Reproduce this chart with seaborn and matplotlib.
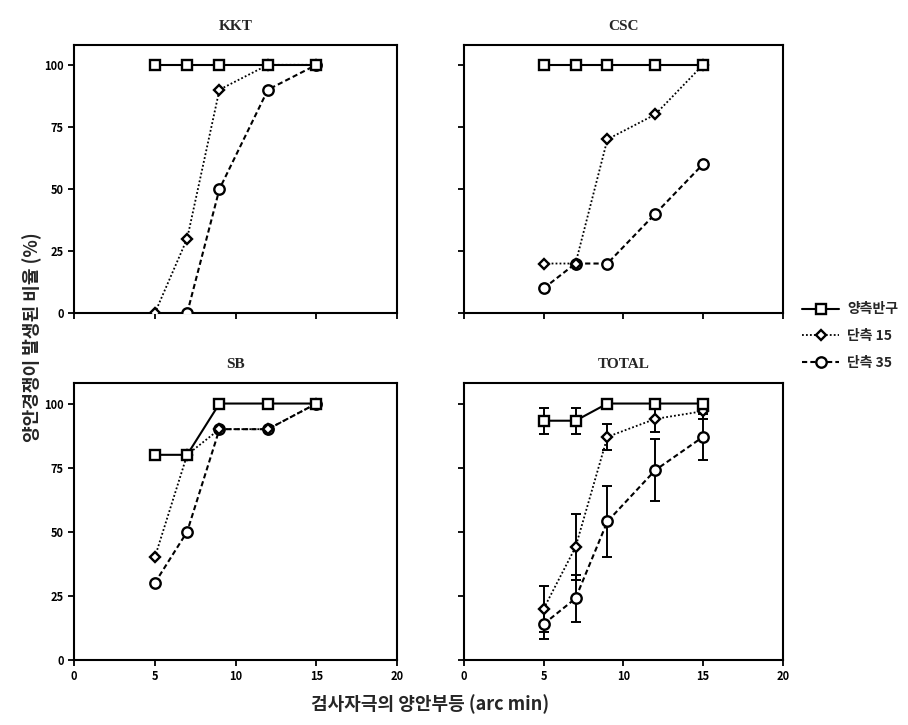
import numpy as np
import pandas as pd
import matplotlib
matplotlib.use('Agg')
import matplotlib.pyplot as plt
import seaborn as sns
from matplotlib.lines import Line2D

# disparity of test stimulus (arc min)
disparity = [5, 7, 9, 12, 15]
group_names = ['양측반구', '단측 15', '단측 35']

kkt_bi = [100, 100, 100, 100, 100]
kkt_15 = [0, 30, 90, 100, 100]
kkt_35 = [np.nan, 0, 50, 90, 100]

csc_bi = [100, 100, 100, 100, 100]
csc_15 = [20, 20, 70, 80, 100]
csc_35 = [10, 20, 20, 40, 60]

sb_bi = [80, 80, 100, 100, 100]
sb_15 = [40, 80, 90, 90, 100]
sb_35 = [30, 50, 90, 90, 100]

total_bi = [93.3, 93.3, 100, 100, 100]
total_15 = [20, 44, 87, 94, 97]
total_35 = [14, 24, 54, 74, 87]
total_bi_err = [5, 5, 0, 0, 0]
total_15_err = [9, 13, 5, 5, 3]
total_35_err = [6, 9, 14, 12, 9]

yticks = [0, 25, 50, 75, 100]
xticks = [0, 5, 10, 15, 20]

sns.set_style('ticks')
plt.rcParams['font.family'] = ['Noto Sans CJK KR', 'DejaVu Sans']

# marker, linestyle, markersize, linewidth
styles = [('s', '-', 7.5, 1.5),
          ('D', (0, (1, 1.2)), 5, 1.3),
          ('o', (0, (2.5, 1.5)), 7.5, 1.5)]


def draw_panel(ax, title, series, errs=None):
    if errs is not None:
        for vals, err in zip(series, errs):
            x = [d for d, e in zip(disparity, err) if e > 0]
            y = [v for v, e in zip(vals, err) if e > 0]
            e = [e for e in err if e > 0]
            ax.errorbar(x, y, yerr=e, fmt='none', ecolor='black',
                        elinewidth=1.4, capsize=3.5, capthick=1.4, zorder=1)
    # circles first, squares last so squares sit on top
    for i in [2, 1, 0]:
        mk, ls, ms, lw = styles[i]
        sns.lineplot(x=disparity, y=series[i], ax=ax, color='black',
                     marker=mk, linestyle=ls, markersize=ms, linewidth=lw,
                     markerfacecolor='white', markeredgecolor='black',
                     markeredgewidth=1.7, zorder=3 + (2 - i))
    ax.set_xlim(0, 20)
    ax.set_ylim(0, 108)
    ax.set_xticks(xticks)
    ax.set_yticks(yticks)
    ax.set_xlabel('')
    ax.set_ylabel('')
    for sp in ax.spines.values():
        sp.set_visible(True)
        sp.set_linewidth(1.5)
        sp.set_color('black')
    ax.tick_params(direction='out', length=4, width=1.3, labelsize=8,
                   colors='black')
    for lab in ax.get_xticklabels() + ax.get_yticklabels():
        lab.set_fontweight('bold')
    ax.set_title(title, family='Liberation Serif', fontweight='bold',
                 fontsize=11, pad=11)


fig = plt.figure(figsize=(9.08, 7.25), dpi=100)
ax_kkt = fig.add_axes([0.0815, 0.568, 0.356, 0.370])
ax_csc = fig.add_axes([0.511, 0.568, 0.351, 0.370])
ax_sb = fig.add_axes([0.0815, 0.0897, 0.356, 0.382])
ax_tot = fig.add_axes([0.511, 0.0897, 0.351, 0.382])

draw_panel(ax_kkt, 'KKT', [kkt_bi, kkt_15, kkt_35])
draw_panel(ax_csc, 'CSC', [csc_bi, csc_15, csc_35])
draw_panel(ax_sb, 'SB', [sb_bi, sb_15, sb_35])
draw_panel(ax_tot, 'TOTAL', [total_bi, total_15, total_35],
           [total_bi_err, total_15_err, total_35_err])

for ax in [ax_kkt, ax_csc]:
    ax.tick_params(labelbottom=False)
for ax in [ax_csc, ax_tot]:
    ax.tick_params(labelleft=False)

handles = [Line2D([], [], color='black', marker=mk, linestyle=ls,
                  markersize=ms, linewidth=lw, markerfacecolor='white',
                  markeredgecolor='black', markeredgewidth=1.7)
           for mk, ls, ms, lw in styles]
leg = fig.legend(handles, group_names, loc='upper left',
                 bbox_to_anchor=(0.87, 0.6), frameon=False,
                 handlelength=2.6, labelspacing=0.9, handletextpad=0.6,
                 prop={'size': 10, 'weight': 'bold'})

fig.text(0.035, 0.535, '양안경쟁이 발생된 비율 (%)', rotation=90,
         ha='center', va='center', fontsize=13, fontweight='bold')
fig.text(0.474, 0.028, '검사자극의 양안부등 (arc min)',
         ha='center', va='center', fontsize=13, fontweight='bold')

fig.savefig('out.png', dpi=100)
